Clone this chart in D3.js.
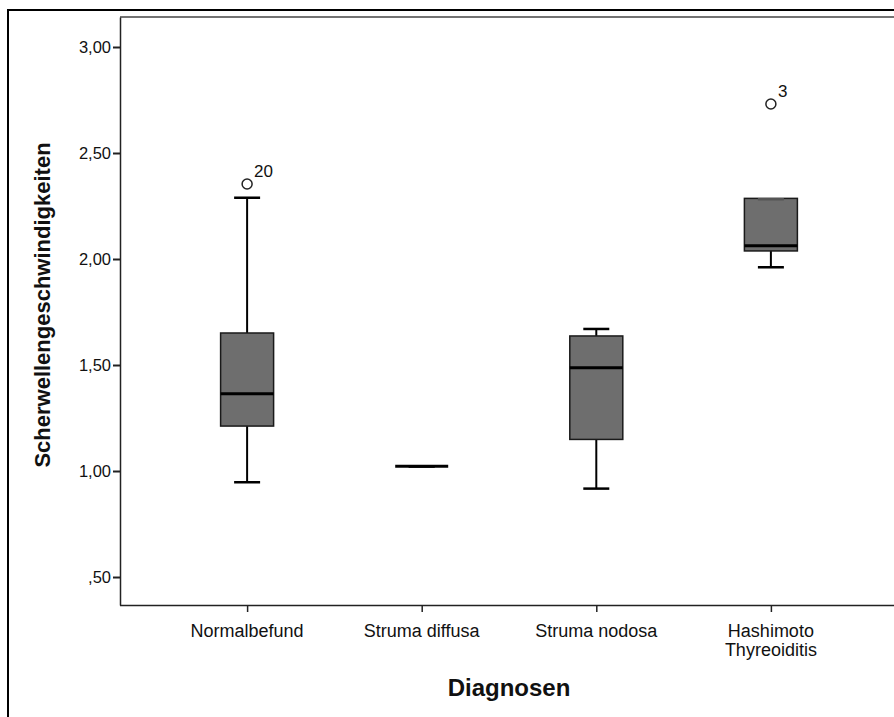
<!DOCTYPE html>
<html>
<head>
<meta charset="utf-8">
<script src="https://cdn.jsdelivr.net/npm/d3@7"></script>
<style>
  html, body { margin: 0; padding: 0; background: #fff; }
  svg { display: block; }
  text { font-family: "Liberation Sans", Arial, sans-serif; fill: #111; }
</style>
</head>
<body>
<svg id="chart" width="894" height="717"></svg>
<script>
// Diagnostic groups
const categories = ["Normalbefund", "Struma diffusa", "Struma nodosa", "Hashimoto Thyreoiditis"];

// Five-number summaries per group (shear wave velocity)
const lowerWhisker = [0.947, 1.022, 0.917, 1.961];
const q1           = [1.212, 1.022, 1.149, 2.038];
const medians      = [1.365, 1.022, 1.487, 2.063];
const q3           = [1.651, 1.022, 1.637, 2.286];
const upperWhisker = [2.289, 1.022, 1.670, 2.282];

// Outliers with their case numbers
const outlierCategory = ["Normalbefund", "Hashimoto Thyreoiditis"];
const outlierValue    = [2.354, 2.731];
const outlierCase     = ["20", "3"];

const yTicks = [0.5, 1.0, 1.5, 2.0, 2.5, 3.0];

const svg = d3.select("#chart");

// plot frame
const plot = { left: 120, top: 17, right: 898, bottom: 605 };

// outer chart frame
svg.append("rect")
  .attr("x", 8).attr("y", 10)
  .attr("width", 1000).attr("height", 1000)
  .attr("fill", "none").attr("stroke", "#000").attr("stroke-width", 2);

const y = d3.scaleLinear()
  .domain([0.368, 3.1415])
  .range([plot.bottom, plot.top]);

const x = d3.scalePoint()
  .domain(categories)
  .range([plot.left, plot.right])
  .padding(0.728);

const fmt = v => {
  const s = d3.format(".2f")(v).replace(".", ",");
  return s.startsWith("0,") ? s.slice(1) : s;
};

// top border of the plot area
svg.append("line")
  .attr("x1", plot.left).attr("x2", 1000)
  .attr("y1", plot.top).attr("y2", plot.top)
  .attr("stroke", "#444").attr("stroke-width", 1.5);

// y axis
const yAxis = svg.append("g")
  .attr("transform", `translate(${plot.left},0)`)
  .call(d3.axisLeft(y).tickValues(yTicks).tickFormat(fmt).tickSize(7).tickPadding(2).tickSizeOuter(0));
yAxis.select(".domain").attr("stroke", "#222").attr("stroke-width", 1.5);
yAxis.selectAll(".tick line").attr("stroke", "#222").attr("stroke-width", 2);
yAxis.selectAll(".tick text")
  .attr("font-size", 16.5).attr("font-family", "Liberation Sans, Arial, sans-serif")
  .attr("fill", "#222");

// x axis
const xAxis = svg.append("g")
  .attr("transform", `translate(0,${plot.bottom})`)
  .call(d3.axisBottom(x).tickSize(7).tickSizeOuter(0).tickFormat(""));
xAxis.select(".domain").attr("stroke", "#222").attr("stroke-width", 1.5)
  .attr("d", `M${plot.left},0.5H1000`);
xAxis.selectAll(".tick line").attr("stroke", "#222").attr("stroke-width", 1.5);

// category labels (Hashimoto wraps onto two lines)
categories.forEach(c => {
  const lines = c === "Hashimoto Thyreoiditis" ? ["Hashimoto", "Thyreoiditis"] : [c];
  const t = svg.append("text")
    .attr("x", x(c)).attr("y", plot.bottom + 32)
    .attr("text-anchor", "middle")
    .attr("font-size", 18);
  lines.forEach((ln, i) => {
    t.append("tspan").attr("x", x(c)).attr("dy", i === 0 ? 0 : 19).text(ln);
  });
});

// axis titles
svg.append("text")
  .attr("x", (plot.left + plot.right) / 2).attr("y", 696)
  .attr("text-anchor", "middle")
  .attr("font-size", 24).attr("font-weight", "bold")
  .text("Diagnosen");

svg.append("text")
  .attr("transform", `translate(50,305) rotate(-90)`)
  .attr("text-anchor", "middle")
  .attr("font-size", 22).attr("font-weight", "bold")
  .text("Scherwellengeschwindigkeiten");

// boxes
const boxW = 53, capW = 26;
const groups = svg.append("g").selectAll("g")
  .data(categories.map((c, i) => ({
    c, lo: lowerWhisker[i], q1: q1[i], med: medians[i], q3: q3[i], hi: upperWhisker[i]
  })))
  .join("g");

// whiskers
groups.append("line")
  .attr("x1", d => x(d.c)).attr("x2", d => x(d.c))
  .attr("y1", d => y(d.q3)).attr("y2", d => y(d.hi))
  .attr("stroke", "#000").attr("stroke-width", 2);
groups.append("line")
  .attr("x1", d => x(d.c)).attr("x2", d => x(d.c))
  .attr("y1", d => y(d.q1)).attr("y2", d => y(d.lo))
  .attr("stroke", "#000").attr("stroke-width", 2);

// box bodies
groups.append("rect")
  .attr("x", d => x(d.c) - boxW / 2)
  .attr("width", boxW)
  .attr("y", d => y(d.q3))
  .attr("height", d => y(d.q1) - y(d.q3))
  .attr("fill", "#6e6e6e")
  .attr("stroke", "#1a1a1a").attr("stroke-width", 1.5);

// whisker caps
groups.append("line")
  .attr("x1", d => x(d.c) - capW / 2).attr("x2", d => x(d.c) + capW / 2)
  .attr("y1", d => y(d.hi)).attr("y2", d => y(d.hi))
  .attr("stroke", d => d.hi < d.q3 ? "#555" : "#000").attr("stroke-width", 2.5);
groups.append("line")
  .attr("x1", d => x(d.c) - capW / 2).attr("x2", d => x(d.c) + capW / 2)
  .attr("y1", d => y(d.lo)).attr("y2", d => y(d.lo))
  .attr("stroke", "#000").attr("stroke-width", 2.5);

// medians
groups.append("line")
  .attr("x1", d => x(d.c) - boxW / 2).attr("x2", d => x(d.c) + boxW / 2)
  .attr("y1", d => y(d.med)).attr("y2", d => y(d.med))
  .attr("stroke", "#000").attr("stroke-width", 3);

// outliers
outlierCategory.forEach((c, i) => {
  svg.append("circle")
    .attr("cx", x(c)).attr("cy", y(outlierValue[i]))
    .attr("r", 5)
    .attr("fill", "#fff").attr("stroke", "#222").attr("stroke-width", 1.5);
  svg.append("text")
    .attr("x", x(c) + 7).attr("y", y(outlierValue[i]) - 7)
    .attr("font-size", 17).attr("fill", "#222")
    .text(outlierCase[i]);
});
</script>
</body>
</html>
